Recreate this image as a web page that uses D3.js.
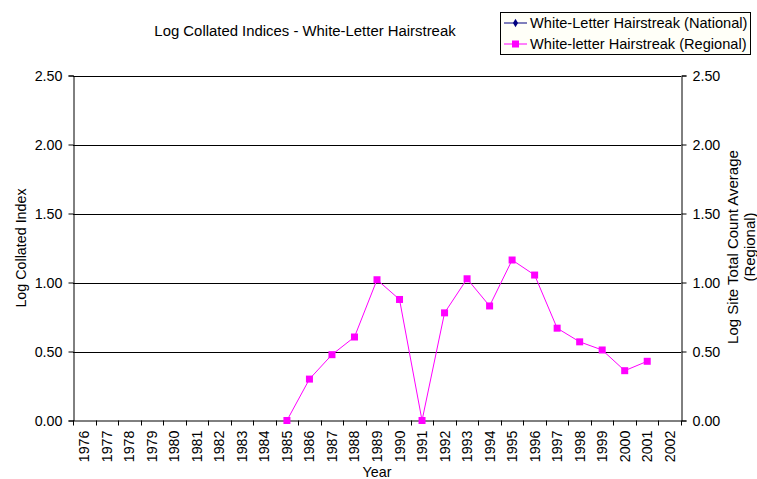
<!DOCTYPE html>
<html><head><meta charset="utf-8">
<script src="https://cdn.jsdelivr.net/npm/d3@7"></script>
<style>body{margin:0;background:#fff}svg{display:block;font-family:"Liberation Sans",Arial,sans-serif}</style>
</head><body><svg id="c" width="757" height="479"></svg>
<script>
const years = ["1976","1977","1978","1979","1980","1981","1982","1983","1984","1985","1986","1987","1988","1989","1990","1991","1992","1993","1994","1995","1996","1997","1998","1999","2000","2001","2002"];
const regionalYears = ["1985","1986","1987","1988","1989","1990","1991","1992","1993","1994","1995","1996","1997","1998","1999","2000","2001"];
const regionalValues = [0.00,0.30,0.477,0.605,1.02,0.877,0.00,0.78,1.027,0.83,1.163,1.054,0.669,0.57,0.511,0.361,0.429];
const nationalValues = [];
const yTicks = [0,0.5,1.0,1.5,2.0,2.5];
const seriesNames = ["White-Letter Hairstreak (National)","White-letter Hairstreak (Regional)"];
const titleText = "Log Collated Indices - White-Letter Hairstreak";

const svg = d3.select("#c");
const L=73, R=681, T=75.5, B=420.5;
const x = d3.scaleBand().domain(years).range([L,R]);
const y = d3.scaleLinear().domain([0,2.5]).range([B,T]);

// gridlines
svg.append("g").selectAll("line").data(yTicks.slice(1)).join("line")
  .attr("x1",L).attr("x2",R).attr("y1",d=>Math.round(y(d))+0.5).attr("y2",d=>Math.round(y(d))+0.5)
  .attr("stroke","#000").attr("stroke-width",1);

// left axis
const ga = svg.append("g").attr("transform",`translate(${L+0.5},0)`)
  .call(d3.axisLeft(y).tickValues(yTicks).tickFormat(d3.format(".2f")).tickSize(5).tickPadding(6));
// right axis
const gr = svg.append("g").attr("transform",`translate(${R+0.5},0)`)
  .call(d3.axisRight(y).tickValues(yTicks).tickFormat(d3.format(".2f")).tickSize(5).tickPadding(6));
// bottom axis
const gb = svg.append("g").attr("transform",`translate(0,${B})`)
  .call(d3.axisBottom(x).tickSize(0).tickPadding(0));
gb.selectAll(".tick text").attr("transform","rotate(-90)").attr("text-anchor","end")
  .attr("x",-10).attr("y",0).attr("dy","0.35em");
// band boundary ticks
gb.append("g").selectAll("line").data(d3.range(years.length+1)).join("line")
  .attr("x1",i=>Math.round(L+i*x.step())+0.5).attr("x2",i=>Math.round(L+i*x.step())+0.5)
  .attr("y1",0).attr("y2",5).attr("stroke","#000");

[ga,gr,gb].forEach(g=>{
  g.selectAll(".domain").attr("stroke","#000");
  g.selectAll(".tick line").attr("stroke","#000");
  g.selectAll("text").attr("fill","#000").style("font-size","14.3px").style("font-family","'Liberation Sans',Arial,sans-serif");
});
gb.select(".domain").attr("d",`M${L},0.5H${R}`);

// line
const pts = regionalYears.map((yr,i)=>({yr,v:regionalValues[i]}));
const line = d3.line().x(d=>x(d.yr)+x.bandwidth()/2).y(d=>y(d.v));
svg.append("path").datum(pts).attr("d",line).attr("fill","none").attr("stroke","#ff00ff").attr("stroke-width",1);
svg.append("g").selectAll("rect").data(pts).join("rect")
  .attr("x",d=>x(d.yr)+x.bandwidth()/2-3.5).attr("y",d=>y(d.v)-3.5)
  .attr("width",7).attr("height",7).attr("fill","#ff00ff");

// title & labels
svg.append("text").attr("x",305).attr("y",36).attr("text-anchor","middle").style("font-size","14.9px").text(titleText);
svg.append("text").attr("x",377).attr("y",477).attr("text-anchor","middle").style("font-size","14.3px").text("Year");
svg.append("text").attr("transform","translate(26,248) rotate(-90)").attr("text-anchor","middle").style("font-size","14.3px").text("Log Collated Index");
svg.append("text").attr("transform","translate(738,247) rotate(-90)").attr("text-anchor","middle").style("font-size","15px").text("Log Site Total Count Average");
svg.append("text").attr("transform","translate(755,247) rotate(-90)").attr("text-anchor","middle").style("font-size","15px").text("(Regional)");

// legend
const lg = svg.append("g");
lg.append("rect").attr("x",500.5).attr("y",12.5).attr("width",250).attr("height",42).attr("fill","#fffff8").attr("stroke","#000");
const colors = ["#000080","#ff00ff"];
seriesNames.forEach((n,i)=>{
  const yy = 23+i*21;
  lg.append("line").attr("x1",504).attr("x2",527).attr("y1",yy).attr("y2",yy).attr("stroke",colors[i]).attr("stroke-width",1);
  if(i===0){
    lg.append("path").attr("d",d3.symbol(d3.symbolDiamond,22)()).attr("transform",`translate(515.5,${yy})`).attr("fill",colors[i]);
  } else {
    lg.append("rect").attr("x",512).attr("y",yy-3.5).attr("width",7).attr("height",7).attr("fill",colors[i]);
  }
  lg.append("text").attr("x",530).attr("y",yy).attr("dy","0.35em").style("font-size","14.6px").text(n);
});
</script></body></html>
